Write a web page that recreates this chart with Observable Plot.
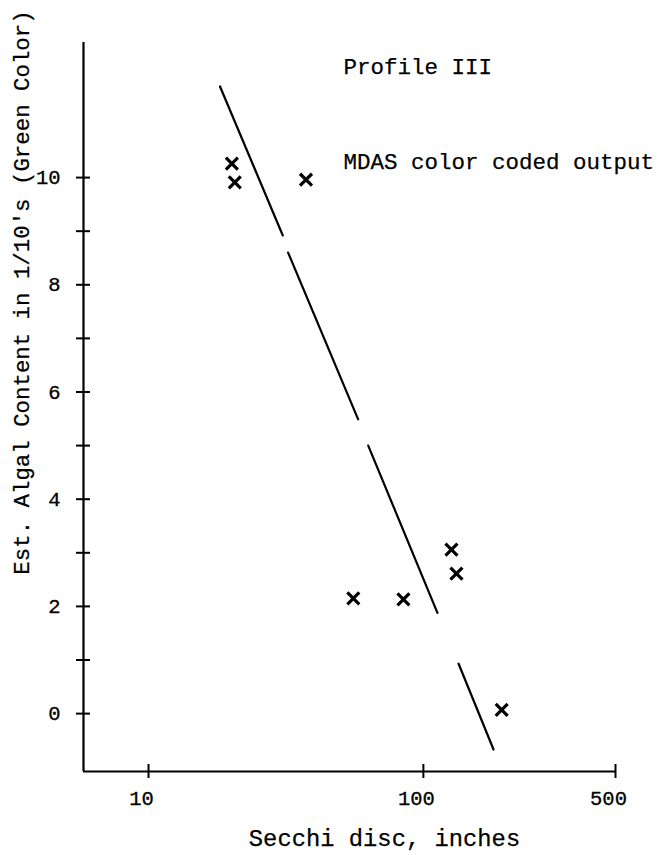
<!DOCTYPE html>
<html>
<head>
<meta charset="utf-8">
<script src="https://cdn.jsdelivr.net/npm/d3@7"></script>
<script src="https://cdn.jsdelivr.net/npm/@observablehq/plot@0.6"></script>
<style>
  html, body { margin: 0; padding: 0; background: #fff; }
</style>
</head>
<body>
<div id="chart"></div>
<script>
// Measured points (Secchi disc depth, inches; est. algal content in 1/10's)
const secchi = [20.1, 20.6, 37.4, 55.6, 84.6, 126.5, 131.9, 192.7];
const algal  = [10.26, 9.91, 9.96, 2.15, 2.13, 3.06, 2.61, 0.07];

// Hand-drawn fit line, drawn in broken pieces (segment id, endpoints)
const fitSegment = [1, 1, 2, 2, 3, 3, 4, 4];
const fitSecchi  = [18.2, 30.8, 32.2, 57.9, 63.0, 112.5, 134.3, 180.0];
const fitAlgal   = [11.70, 8.92, 8.60, 5.49, 5.00, 1.88, 0.93, -0.67];

// Axes
const xDomain = [5.8, 500];
const yDomain = [-1.08, 12.52];
const xTicks = [10, 100, 500];
const yTicks = [0, 1, 2, 3, 4, 5, 6, 7, 8, 9, 10];
const yTickLabels = [0, 2, 4, 6, 8, 10];

// Texts
const xLabel = "Secchi disc, inches";
const yLabel = "Est. Algal Content in 1/10's (Green Color)";
const noteTitle = "Profile III";
const noteSource = "MDAS color coded output";

const points = secchi.map((x, i) => ({x, y: algal[i]}));
const fit = fitSecchi.map((x, i) => ({x, y: fitAlgal[i], seg: fitSegment[i]}));

const font = "'Liberation Mono', 'DejaVu Sans Mono', monospace";
const textStyle = {fill: "black", stroke: "black", strokeWidth: 0.25, lineAnchor: "middle"};

const chart = Plot.plot({
  width: 658,
  height: 855,
  marginLeft: 83,
  marginRight: 43,
  marginTop: 42,
  marginBottom: 84,
  style: {fontFamily: font, color: "black", background: "white", overflow: "visible"},
  x: {type: "log", domain: xDomain},
  y: {domain: yDomain},
  marks: [
    // axis lines
    Plot.ruleX([xDomain[0]], {stroke: "black", strokeWidth: 2.2}),
    Plot.ruleY([yDomain[0]], {stroke: "black", strokeWidth: 2.2}),
    // ticks crossing the axes
    Plot.axisY(yTicks, {tickSize: 14, dx: 7, fill: "none", label: null, strokeWidth: 2}),
    Plot.axisX(xTicks, {tickSize: 14, dy: -7, fill: "none", label: null, strokeWidth: 2}),
    // tick labels
    Plot.axisY(yTickLabels, {tickSize: 0, tickPadding: 23, stroke: "none", label: null,
      fontSize: 20.5, textStroke: "black", textStrokeWidth: 0.3, text: d => `${d}`}),
    Plot.axisX(xTicks, {tickSize: 0, tickPadding: 19, dx: -7, stroke: "none", label: null,
      fontSize: 20.5, textStroke: "black", textStrokeWidth: 0.3, text: d => `${d}`}),
    // fit line
    Plot.line(fit, {x: "x", y: "y", z: "seg", stroke: "black", strokeWidth: 2.2}),
    // data markers
    Plot.dot(points, {x: "x", y: "y", symbol: "times", r: 5.5, stroke: "black", strokeWidth: 3.2}),
    // axis titles
    Plot.text([yLabel], {frameAnchor: "left", textAnchor: "middle", rotate: -90,
      dx: -61.5, dy: -114.5, fontSize: 22.4, ...textStyle}),
    Plot.text([xLabel], {frameAnchor: "bottom", textAnchor: "middle", dx: 35, dy: 66.5,
      fontSize: 23.8, ...textStyle}),
    // annotations
    Plot.text([noteTitle], {frameAnchor: "top-left", textAnchor: "start", dx: 260, dy: 24,
      fontSize: 22.5, ...textStyle}),
    Plot.text([noteSource], {frameAnchor: "top-left", textAnchor: "start", dx: 260, dy: 119,
      fontSize: 22.5, ...textStyle})
  ]
});

document.getElementById("chart").appendChild(chart);
</script>
</body>
</html>
